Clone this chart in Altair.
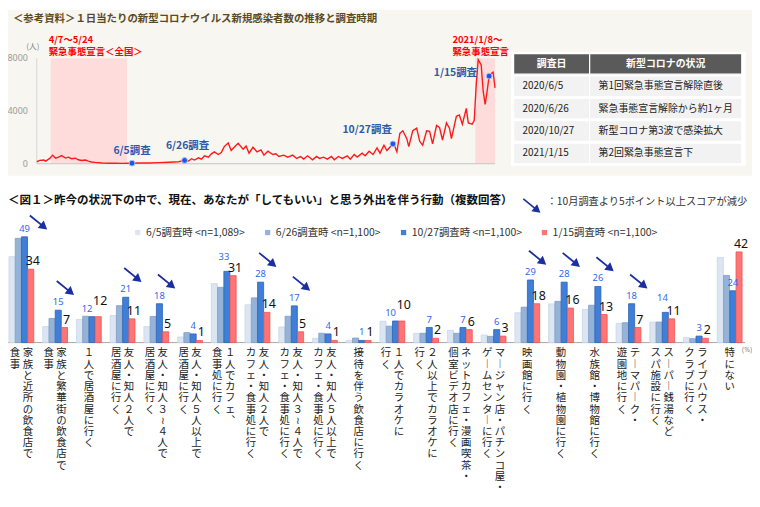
import altair as alt
import pandas as pd

JP = "Noto Sans CJK JP"

# ------------------------------------------------------------------ data
# top panel: daily new infections (position along the time axis, persons)
case_t = [0, 3, 7, 9, 13, 16, 19, 22, 25, 29,
          32, 35, 39, 42, 45, 49, 52, 55, 59, 66,
          73, 79, 86, 93, 96, 103, 113, 123, 133, 143,
          149, 153, 156, 159, 163, 166, 169, 173, 176, 179,
          183, 186, 189, 193, 196, 199, 203, 208, 211, 214,
          218, 222, 226, 229, 233, 238, 241, 244, 249, 253,
          258, 262, 266, 269, 273, 278, 282, 285, 289, 293,
          297, 300, 304, 308, 313, 316, 320, 323, 328, 331,
          335, 339, 343, 346, 350, 353, 359, 361, 363, 366,
          369, 373, 375, 379, 383, 386, 389, 393, 396, 399,
          403, 406, 409, 413, 416, 418, 423, 426, 429, 433,
          435, 439, 441, 443, 445, 448, 450, 452, 454, 456,
          459, 460, 462]
case_v = [150, 250, 280, 200, 400, 650, 420, 500, 620, 430,
          500, 380, 420, 300, 250, 280, 200, 130, 100, 60,
          40, 40, 30, 35, 40, 50, 60, 80, 110, 150,
          250, 200, 380, 280, 450, 350, 600, 500, 750, 900,
          700, 850, 1300, 1580, 1000, 1250, 1550, 1100, 1350, 800,
          1250, 900, 1050, 650, 950, 700, 750, 550, 650, 500,
          650, 400, 550, 350, 600, 300, 550, 400, 500, 350,
          550, 300, 550, 400, 600, 350, 700, 500, 800, 600,
          950, 700, 1200, 800, 1400, 1000, 1500, 1300, 900, 2300,
          2500, 1900, 1300, 2500, 2700, 1700, 1400, 2500, 2450, 1500,
          2900, 2750, 1800, 3100, 2700, 1900, 3600, 3700, 3000, 4200,
          3100, 3000, 3300, 6000, 7900, 7500, 5500, 4500, 5500, 6650,
          6900, 6950, 5750]

emerg_from = [14, 442]
emerg_to = [91, 462]
emerg_period = ["4/7～5/24", "2021/1/8～"]
emerg_name = ["緊急事態宣言＜全国＞", "緊急事態宣言"]

survey_t = [96, 149, 359, 456]
survey_v = [40, 250, 1500, 6650]
survey_name = ["6/5調査", "6/26調査", "10/27調査", "1/15調査"]

case_ticks = [0, 4000, 8000]
case_tick_labels = ["0", "4000", "8000"]
case_unit = "(人)"

top_title = "＜参考資料＞１日当たりの新型コロナウイルス新規感染者数の推移と調査時期"

table_header = ["調査日", "新型コロナの状況"]
table_date = ["2020/6/5", "2020/6/26", "2020/10/27", "2021/1/15"]
table_status = ["第1回緊急事態宣言解除直後", "緊急事態宣言解除から約1ヶ月",
                "新型コロナ第3波で感染拡大", "第2回緊急事態宣言下"]

bar_title = "＜図１＞昨今の状況下の中で、現在、あなたが「してもいい」と思う外出を伴う行動（複数回答）"
drop_note = "：10月調査より5ポイント以上スコアが減少"
pct_unit = "(%)"

series_names = ["6/5調査時 <n=1,089>", "6/26調査時 <n=1,100>",
                "10/27調査時 <n=1,100>", "1/15調査時 <n=1,100>"]

cat_lines = [
    ["家族と近所の飲食店で", "食事"],
    ["家族と繁華街の飲食店で", "食事"],
    ["１人で居酒屋に行く"],
    ["友人・知人２人で", "居酒屋に行く"],
    ["友人・知人３～４人で", "居酒屋に行く"],
    ["友人・知人５人以上で", "居酒屋に行く"],
    ["１人でカフェ、", "食事処に行く"],
    ["友人・知人２人で", "カフェ・食事処に行く"],
    ["友人・知人３～４人で", "カフェ・食事処に行く"],
    ["友人・知人５人以上で", "カフェ・食事処に行く"],
    ["接待を伴う飲食店に行く"],
    ["１人でカラオケに", "行く"],
    ["２人以上でカラオケに", "行く"],
    ["ネットカフェ・漫画喫茶・", "個室ビデオ店に行く"],
    ["マージャン店・パチンコ屋・", "ゲームセンターに行く"],
    ["映画館に行く"],
    ["動物園・植物園に行く"],
    ["水族館・博物館に行く"],
    ["テーマパーク・", "遊園地に行く"],
    ["スーパー銭湯など", "スパ施設に行く"],
    ["ライブハウス・", "クラブに行く"],
    ["特にない"],
]
v_0605 = [39.8, 7.4, 10.7, 12.5, 7.4, 2.6, 27.3, 17.5, 7.2, 2.0, 1.1,
          9.9, 4.3, 5.7, 3.5, 13.8, 17.9, 15.3, 8.9, 9.5, 2.3, 39.4]
v_0626 = [48.3, 11.2, 12.2, 17.1, 12.1, 4.6, 25.6, 20.7, 12.2, 4.3, 2.1,
          7.6, 4.3, 4.3, 2.9, 16.4, 19.1, 17.3, 9.2, 9.5, 1.8, 31.1]
v_1027 = [49, 15, 12, 21, 18, 4, 33, 28, 17, 4, 1,
          10, 7, 7, 6, 29, 28, 26, 18, 14, 3, 24]
v_0115 = [34, 7, 12, 11, 5, 1, 31, 14, 5, 1, 1,
          10, 2, 6, 3, 18, 16, 13, 7, 11, 2, 42]
dropped = [1, 1, 0, 1, 1, 0, 0, 1, 1, 0, 0,
           0, 0, 0, 0, 1, 1, 1, 1, 0, 0, 0]

# ------------------------------------------------------------------ styles / layout
W, H = 750, 491
LINE_XR = [29, 491]
LINE_YR = [155, 48.7]
TAB_XR = [509.7, 739.7]
TAB_YR = [44, 155]
BAR_XR = [-3.5, 744.5]
BAR_YR = [335.3, 226.5]

series_colors = ["#dce6f2", "#95b3d7", "#3f7fd8", "#ff7474"]
series_strokes = ["#c9d6e8", "#7f9dc9", "#2c62b5", "#f25252"]
NAVY = "#1c2f9e"
col_span = [(0, 1), (1, 3)]

one = pd.DataFrame({"k": [0]})

# ------------------------------------------------------------------ top panel
panel = alt.Chart(one).mark_rect(color="#f7f6f1").encode(
    x=alt.value(0), x2=alt.value(W), y=alt.value(0), y2=alt.value(167))

title1 = alt.Chart(one).mark_text(align="left", baseline="middle", font=JP, fontSize=10.5,
                                  fontWeight="bold", color="#5b4a1f").encode(
    x=alt.value(5), y=alt.value(9), text=alt.value(top_title))

xs = alt.Scale(domain=[0, 462], range=LINE_XR)
ys = alt.Scale(domain=[0, 8000], range=LINE_YR)

cases = pd.DataFrame({"t": case_t, "v": case_v})
emerg = pd.DataFrame({"t0": emerg_from, "t1": emerg_to,
                      "period": emerg_period, "name": emerg_name})
surv = pd.DataFrame({"t": survey_t, "v": survey_v, "name": survey_name})
ticks = pd.DataFrame({"tick": case_ticks, "label": case_tick_labels})

bands = alt.Chart(emerg).mark_rect(color="#ffdcdc").encode(
    x=alt.X("t0:Q", scale=xs, axis=None), x2="t1:Q",
    y=alt.YDatum(0, scale=ys, axis=None), y2=alt.Y2Datum(8000))
vaxis = alt.Chart(one).mark_rule(color="#d4d4d4").encode(
    x=alt.XDatum(0, scale=xs, axis=None),
    y=alt.YDatum(0, scale=ys, axis=None), y2=alt.Y2Datum(8000))
haxis = alt.Chart(one).mark_rule(color="#c4c4c4").encode(
    x=alt.XDatum(0, scale=xs, axis=None), x2=alt.X2Datum(462),
    y=alt.YDatum(0, scale=ys, axis=None))
tick_txt = alt.Chart(ticks).mark_text(align="right", baseline="middle", dx=-9, fontSize=9,
                                      color="#9a9a9a", font="Noto Sans").encode(
    x=alt.XDatum(0, scale=xs, axis=None),
    y=alt.Y("tick:Q", scale=ys, axis=None), text="label:N")
unit_txt = alt.Chart(one).mark_text(fontSize=8, color="#8a8a8a", dx=-4, dy=-11, font=JP).encode(
    x=alt.XDatum(0, scale=xs, axis=None),
    y=alt.YDatum(8000, scale=ys, axis=None), text=alt.value(case_unit))
line = alt.Chart(cases).mark_line(color="#ff1a1a", strokeWidth=1.4).encode(
    x=alt.X("t:Q", scale=xs, axis=None), y=alt.Y("v:Q", scale=ys, axis=None))
pts = alt.Chart(surv).mark_circle(size=34, color="#1f55e8", opacity=1,
                                  stroke="#a9c0ff", strokeWidth=1).encode(
    x=alt.X("t:Q", scale=xs, axis=None), y=alt.Y("v:Q", scale=ys, axis=None))

emerg_dx = [-2, -23]
elabs = []
for i in range(len(emerg_from)):
    d = emerg.iloc[[i]]
    for fld, dy in (("period", -18.7), ("name", -6.7)):
        elabs.append(alt.Chart(d).mark_text(align="left", baseline="middle", dx=emerg_dx[i], dy=dy,
                                            fontSize=9.5, fontWeight="bold", color="#ff0000",
                                            font=JP).encode(
            x=alt.X("t0:Q", scale=xs, axis=None),
            y=alt.YDatum(8000, scale=ys, axis=None), text=f"{fld}:N"))

surv_dx = [0, 3, -26, -34]
surv_dy = [-12, -15, -14, -3]
slabs = []
for i in range(len(survey_t)):
    slabs.append(alt.Chart(surv.iloc[[i]]).mark_text(
        align="center", baseline="middle", dx=surv_dx[i], dy=surv_dy[i], fontSize=10.5,
        fontWeight="bold", color="#2f5aa8", font=JP).encode(
        x=alt.X("t:Q", scale=xs, axis=None), y=alt.Y("v:Q", scale=ys, axis=None),
        text="name:N"))

line_chart = alt.layer(bands, vaxis, haxis, tick_txt, unit_txt, line, pts, *elabs, *slabs)

# ------------------------------------------------------------------ table
rows = ["head"] + [f"r{i}" for i in range(len(table_date))]
cells = []
for j, h in enumerate(table_header):
    cells.append(dict(row="head", c0=col_span[j][0], c1=col_span[j][1], text=h))
for i in range(len(table_date)):
    for j, v in enumerate([table_date[i], table_status[i]]):
        cells.append(dict(row=f"r{i}", c0=col_span[j][0], c1=col_span[j][1], text=v))
tab = pd.DataFrame(cells)

tx = alt.Scale(domain=[0, 3], range=TAB_XR)
ty = alt.Scale(domain=rows, range=TAB_YR, paddingInner=0.08, paddingOuter=0)

tab_bg = alt.Chart(one).mark_rect(color="white").encode(
    x=alt.value(507), x2=alt.value(744), y=alt.value(42), y2=alt.value(157))
head_rect = alt.Chart(tab).transform_filter("datum.row == 'head'").mark_rect(
    color="#5a5a5a", stroke="white", strokeWidth=1.2).encode(
    x=alt.X("c0:Q", scale=tx, axis=None), x2="c1:Q", y=alt.Y("row:N", scale=ty, axis=None))
body_rect = alt.Chart(tab).transform_filter("datum.row != 'head'").mark_rect(
    color="#f2f2f2", stroke="white", strokeWidth=1.2).encode(
    x=alt.X("c0:Q", scale=tx, axis=None), x2="c1:Q", y=alt.Y("row:N", scale=ty, axis=None))
head_txt = alt.Chart(tab).transform_filter("datum.row == 'head'").transform_calculate(
    cm="(datum.c0 + datum.c1) / 2").mark_text(
    color="white", fontWeight="bold", fontSize=10, font=JP, baseline="middle").encode(
    x=alt.X("cm:Q", scale=tx, axis=None), y=alt.Y("row:N", scale=ty, axis=None), text="text:N")
body_txt = alt.Chart(tab).transform_filter("datum.row != 'head'").mark_text(
    color="#222222", fontSize=10, font=JP, align="left", dx=9, baseline="middle").encode(
    x=alt.X("c0:Q", scale=tx, axis=None), y=alt.Y("row:N", scale=ty, axis=None), text="text:N")

table_chart = alt.layer(tab_bg, head_rect, body_rect, head_txt, body_txt)

# ------------------------------------------------------------------ bar chart
cat_keys = ["".join(c) for c in cat_lines]
long_rows = []
for i, k in enumerate(cat_keys):
    for s, vals in zip(series_names, [v_0605, v_0626, v_1027, v_0115]):
        long_rows.append(dict(cat=k, series=s, value=vals[i]))
long = pd.DataFrame(long_rows)
wide = pd.DataFrame({"cat": cat_keys, "v1027": v_1027, "v0115": v_0115, "drop": dropped})

VERT = {"ー": "︱", "～": "≀", "、": "︑"}


def vertical(s):
    return "\n".join(VERT.get(c, c) for c in s)


lab_rows = []
for k, cols in zip(cat_keys, cat_lines):
    for j, c in enumerate(cols):
        lab_rows.append(dict(cat=k, col=j, n=len(cols), text=vertical(c)))
labs = pd.DataFrame(lab_rows)

xb = alt.Scale(domain=cat_keys, range=BAR_XR, paddingInner=0.265, paddingOuter=0.1325)
yb = alt.Scale(domain=[0, 50], range=BAR_YR)
xo = alt.Scale(domain=series_names, paddingInner=0.03)

XB = alt.X("cat:N", scale=xb, axis=None)

bars = alt.Chart(long).mark_bar(strokeWidth=0.8).encode(
    x=XB,
    xOffset=alt.XOffset("series:N", scale=xo),
    y=alt.Y("value:Q", scale=yb, axis=None),
    color=alt.Color("series:N", scale=alt.Scale(domain=series_names, range=series_colors),
                    legend=alt.Legend(orient="none", legendX=125.5, legendY=219,
                                      direction="horizontal", title=None, symbolType="square",
                                      symbolSize=28, symbolStrokeWidth=0, labelFontSize=10.5,
                                      labelFont=JP, labelColor="#333333", columnPadding=17,
                                      labelOffset=3, padding=0, labelLimit=220)),
    stroke=alt.Stroke("series:N", scale=alt.Scale(domain=series_names, range=series_strokes),
                      legend=None),
)

# label placement rules for the two printed values (avoid collisions)
same = "(datum.v0115 == datum.v1027 && datum.v0115 >= 10)"
near = "(datum.v1027 - datum.v0115 > 0 && datum.v1027 - datum.v0115 <= 3 && datum.v0115 >= 10)"
blue_kw = dict(color="#3366ee", fontSize=9.5, dy=-8, font="Noto Sans", baseline="middle")
XO_BLUE = alt.XOffsetDatum(series_names[2], scale=xo)
blue_lab = alt.Chart(wide).transform_filter(f"!{same} && !{near}").mark_text(**blue_kw).encode(
    x=XB, xOffset=XO_BLUE, y=alt.Y("v1027:Q", scale=yb, axis=None), text="v1027:Q")
blue_lab_same = alt.Chart(wide).transform_filter(same).mark_text(dx=-5, **blue_kw).encode(
    x=XB, xOffset=XO_BLUE, y=alt.Y("v1027:Q", scale=yb, axis=None), text="v1027:Q")
blue_lab_up = alt.Chart(wide).transform_filter(near).transform_calculate(
    yl="datum.v1027 + 3").mark_text(dx=-3, **blue_kw).encode(
    x=XB, xOffset=XO_BLUE, y=alt.Y("yl:Q", scale=yb, axis=None), text="v1027:Q")

black_lab = alt.Chart(wide).transform_calculate(
    ylab=f"datum.v0115 + ({same} ? 3.5 : 0)"
).mark_text(color="#111111", fontSize=12.5, dx=2, dy=-8, font="Noto Sans",
            baseline="middle").encode(
    x=XB, xOffset=alt.XOffsetDatum(series_names[3], scale=xo),
    y=alt.Y("ylab:Q", scale=yb, axis=None), text="v0115:Q")

ARROW = "M -0.3 -5.9 L 2.9 -3.3 M 2.9 -3.3 L 2.44 -4.51 L 1.62 -3.51 Z"
ARROW_HIGH = "M 1.08 -4.3 L 4.28 -1.7 M 4.28 -1.7 L 3.82 -2.91 L 3.0 -1.91 Z"
ARROW_C = "M -1.6 -1.3 L 1.6 1.3 M 1.6 1.3 L 1.14 0.09 L 0.32 1.09 Z"

arrows = alt.Chart(wide).transform_filter("datum.drop == 1 && datum.v1027 <= 40").mark_point(
    shape=ARROW, size=100, filled=True, fill=NAVY, stroke=NAVY, strokeWidth=1.8, opacity=1).encode(
    x=XB, xOffset=XO_BLUE, y=alt.Y("v1027:Q", scale=yb, axis=None))
arrows_high = alt.Chart(wide).transform_filter("datum.drop == 1 && datum.v1027 > 40").mark_point(
    shape=ARROW_HIGH, size=100, filled=True, fill=NAVY, stroke=NAVY, strokeWidth=1.8,
    opacity=1).encode(
    x=XB, xOffset=XO_BLUE, y=alt.Y("v1027:Q", scale=yb, axis=None))

base_rule = alt.Chart(one).mark_rule(color="#a6a6a6").encode(
    x=alt.value(0), x2=alt.value(743), y=alt.YDatum(0, scale=yb, axis=None))

lab_kw = dict(baseline="top", align="center", lineBreak="\n", lineHeight=11.3, fontSize=10.5,
              color="#222222", font=JP, dy=6)
lab_single = alt.Chart(labs).transform_filter("datum.n == 1").mark_text(**lab_kw).encode(
    x=XB, y=alt.YDatum(0, scale=yb, axis=None), text="text:N")
lab_first = alt.Chart(labs).transform_filter("datum.n == 2 && datum.col == 0").mark_text(
    dx=6.5, **lab_kw).encode(x=XB, y=alt.YDatum(0, scale=yb, axis=None), text="text:N")
lab_second = alt.Chart(labs).transform_filter("datum.n == 2 && datum.col == 1").mark_text(
    dx=-6.5, **lab_kw).encode(x=XB, y=alt.YDatum(0, scale=yb, axis=None), text="text:N")

pct_txt = alt.Chart(one).mark_text(align="right", baseline="middle", fontSize=7, color="#888888",
                                   dy=7, font="Noto Sans").encode(
    x=alt.value(W), y=alt.YDatum(0, scale=yb, axis=None), text=alt.value(pct_unit))

bar_chart = alt.layer(base_rule, bars, blue_lab, blue_lab_same, blue_lab_up, black_lab,
                      arrows, arrows_high, lab_single, lab_first, lab_second, pct_txt)

title2 = alt.Chart(one).mark_text(align="left", baseline="middle", font=JP, fontSize=11.6,
                                  fontWeight="bold", color="#111111").encode(
    x=alt.value(0), y=alt.value(193), text=alt.value(bar_title))
note_arrow = alt.Chart(one).mark_point(shape=ARROW_C, size=100, filled=True, fill=NAVY,
                                       stroke=NAVY, strokeWidth=1.6, opacity=1).encode(
    x=alt.value(527.5), y=alt.value(197))
note_txt = alt.Chart(one).mark_text(align="left", baseline="middle", font=JP, fontSize=10.3,
                                    color="#333333").encode(
    x=alt.value(543), y=alt.value(194), text=alt.value(drop_note))

chart = alt.layer(
    panel, title1, line_chart, table_chart, bar_chart, title2, note_arrow, note_txt
).resolve_scale(
    x="independent", y="independent", xOffset="independent"
).properties(
    width=W, height=H, padding=0, background="white",
    autosize=alt.AutoSizeParams(type="none"),
).configure_view(stroke=None)

chart.save("out.html", embed_options={"renderer": "svg", "actions": False})
